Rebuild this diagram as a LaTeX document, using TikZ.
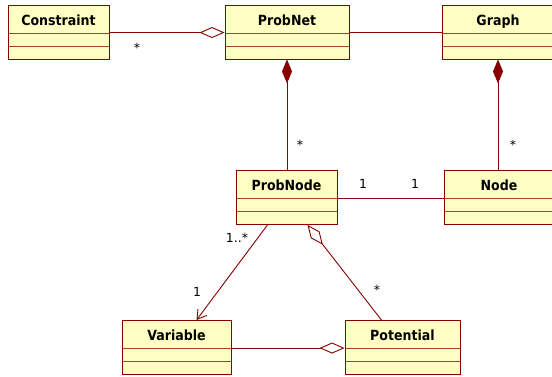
\documentclass[tikz,border=0pt]{standalone}
\usepackage{fontspec}
\setmainfont{DejaVu Sans}
\newfontfamily\classfont{DejaVu Sans Condensed}
\usetikzlibrary{arrows.meta, positioning, calc}
\definecolor{umlborder}{RGB}{135,0,0}
\definecolor{umlsep}{RGB}{165,65,45}
\definecolor{umlfill}{RGB}{255,255,196}

\begin{document}
\begin{tikzpicture}[x=1pt, y=-1pt,
  % Class boxes (name + two empty compartments)
  umlclass/.style={
    rectangle,
    draw=umlborder,
    line width=0.9pt,
    fill=umlfill,
    inner sep=0pt,
    text height=20pt,
    text depth=34pt,
    font=\classfont\fontsize{14}{16}\selectfont\bfseries,
    path picture={
      \draw[umlsep, line width=1pt]
        ([yshift=-28pt]path picture bounding box.north west) -- ([yshift=-28pt]path picture bounding box.north east)
        ([yshift=-41pt]path picture bounding box.north west) -- ([yshift=-41pt]path picture bounding box.north east);
    }
  },
  assoc/.style={
    draw=umlborder,
    line width=0.9pt
  },
  aggreg/.style={
    assoc,
    {Diamond[open, length=25pt, width=11pt]}-
  },
  compos/.style={
    assoc,
    {Diamond[length=24pt, width=10pt]}-
  },
  navig/.style={
    assoc,
    -{Straight Barb[length=9pt, width=11pt]}
  },
  mult/.style={
    font=\fontsize{12.5}{14}\selectfont,
    inner sep=1pt
  }
]
\useasboundingbox (0,0) rectangle (552,376);
\clip (0,0) rectangle (552,376);

% ===== CLASSES =====
\node[umlclass, minimum width=101pt] (constraint) at (58.5,32) {Constraint};
\node[umlclass, minimum width=124pt] (probnet) at (287,32) {ProbNet};
\node[umlclass, minimum width=112pt] (graph) at (498,32) {Graph};

\node[umlclass, minimum width=101pt] (probnode) at (286.5,197.5) {ProbNode};
\node[umlclass, minimum width=110pt] (gnode) at (499,197.5) {Node};

\node[umlclass, minimum width=109pt] (variable) at (176.5,347.5) {Variable};
\node[umlclass, minimum width=115pt] (potential) at (402.5,347.5) {Potential};

% ===== RELATIONS =====
\draw[aggreg] ([yshift=-28pt]probnet.north west) -- ([yshift=-28pt]constraint.north east);
\draw[assoc] ([yshift=-28pt]probnet.north east) -- ([yshift=-28pt]graph.north west);

\draw[compos] (probnet.south) -- (probnet.south |- probnode.north);
\draw[compos] (graph.south) -- (graph.south |- gnode.north);

\draw[assoc] ([yshift=-28pt]probnode.north east) -- ([yshift=-28pt]gnode.north west);

\draw[navig] ([xshift=-19pt]probnode.south) -- ([xshift=20pt]variable.north);
\draw[aggreg] ([xshift=21pt]probnode.south) -- ([xshift=-21pt]potential.north);

\draw[aggreg] ([yshift=-28pt]potential.north west) -- ([yshift=-28pt]variable.north east);

% ===== MULTIPLICITIES =====
\node[mult] (m_constraint) at (137,48) {*};
\node[mult] (m_probnode) at (300,145) {*};
\node[mult] (m_gnode) at (513,145) {*};
\node[mult] (m_pn_left) at (363,184) {1};
\node[mult] (m_pn_right) at (415,184) {1};
\node[mult] (m_var_src) at (237,238) {1..*};
\node[mult] (m_var_dst) at (197,292) {1};
\node[mult] (m_pot) at (377,290) {*};

\end{tikzpicture}
\end{document}
